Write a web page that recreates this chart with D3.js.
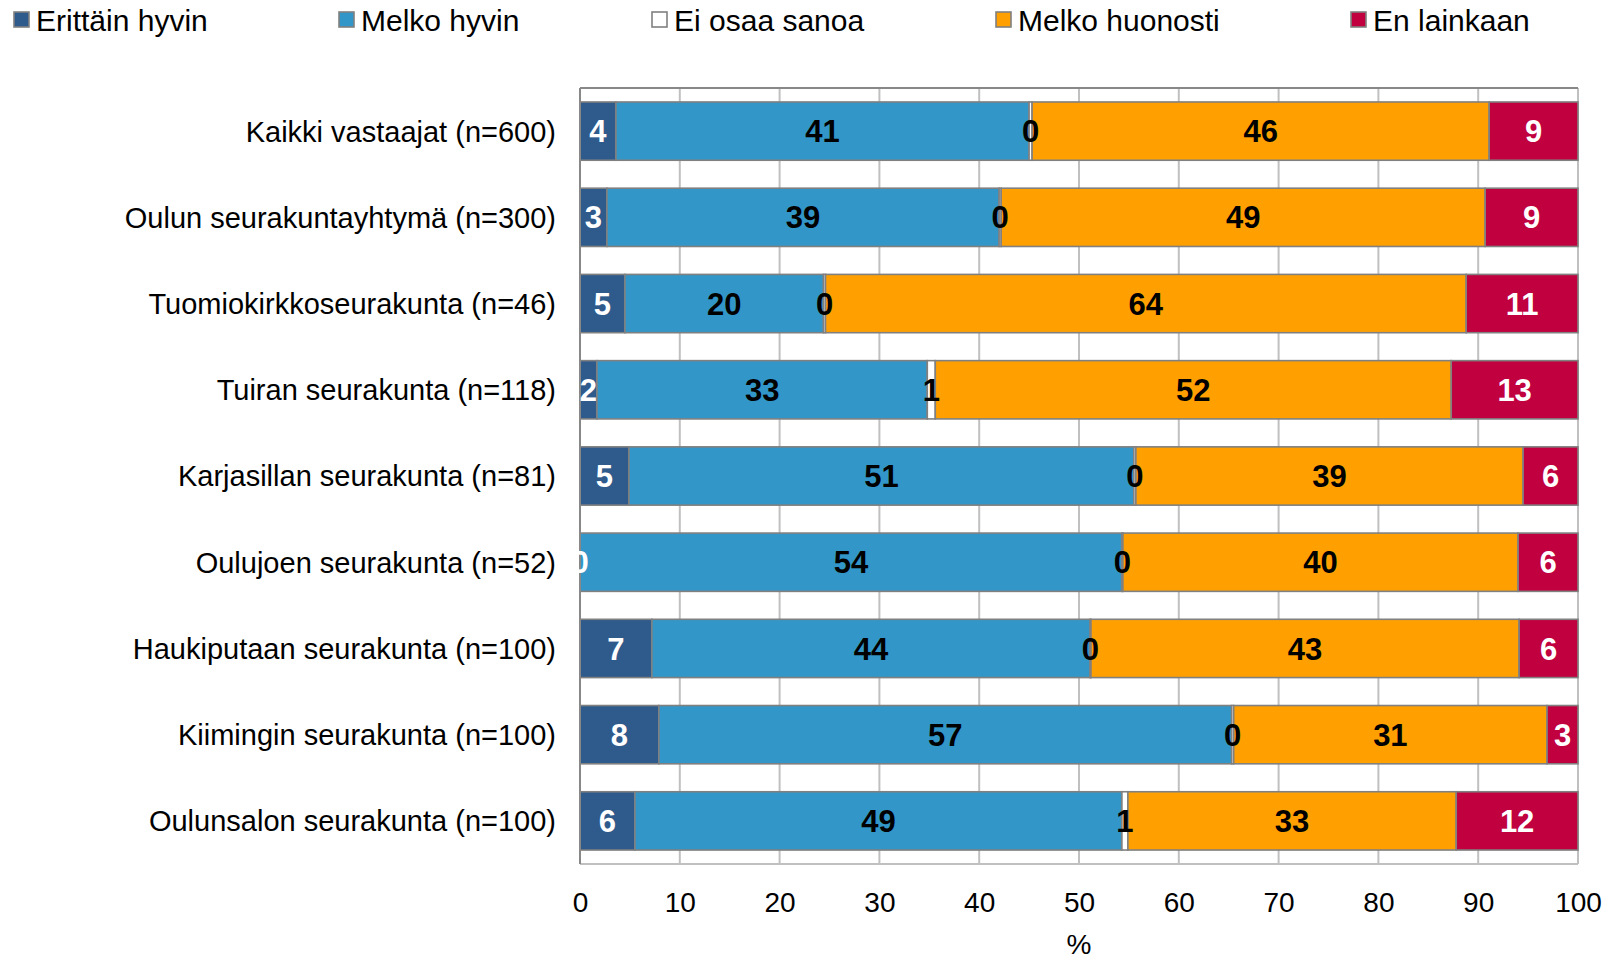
<!DOCTYPE html>
<html>
<head>
<meta charset="utf-8">
<script src="https://cdn.jsdelivr.net/npm/d3@7"></script>
<style>
  body { margin: 0; background: #fff; }
  text { font-family: "Liberation Sans", Arial, sans-serif; }
</style>
</head>
<body>
<div id="chart"></div>
<script>
"use strict"

const categories = [
  "Kaikki vastaajat (n=600)",
  "Oulun seurakuntayhtymä (n=300)",
  "Tuomiokirkkoseurakunta (n=46)",
  "Tuiran seurakunta (n=118)",
  "Karjasillan seurakunta (n=81)",
  "Oulujoen seurakunta (n=52)",
  "Haukiputaan seurakunta (n=100)",
  "Kiimingin seurakunta (n=100)",
  "Oulunsalon seurakunta (n=100)"
];
const seriesNames = ["Erittäin hyvin", "Melko hyvin", "Ei osaa sanoa", "Melko huonosti", "En lainkaan"];
const erittain      = [3.6, 2.7, 4.5, 1.7, 4.9, 0.0, 7.2, 7.9, 5.5];
const melkoHyvin    = [41.4, 39.3, 19.9, 33.1, 50.6, 54.3, 43.9, 57.4, 48.8];
const eiOsaa        = [0.3, 0.2, 0.2, 0.8, 0.2, 0.1, 0.1, 0.2, 0.6];
const melkoHuonosti = [45.8, 48.5, 64.2, 51.7, 38.8, 39.6, 42.9, 31.4, 32.9];
const enLainkaan    = [8.9, 9.3, 11.2, 12.7, 5.5, 6.0, 5.9, 3.1, 12.2];
const xTicks = [0, 10, 20, 30, 40, 50, 60, 70, 80, 90, 100];

const colors = ["#2f5a8c", "#3296c8", "#ffffff", "#ffa000", "#c0003f"];
const labelColors = ["#fff", "#000", "#000", "#000", "#fff"];
const legendX = [13, 338, 651, 995, 1350];

const width = 1608, height = 960;
const margin = {left: 580, right: 30, top: 88, bottom: 96};

const rows = categories.map((c, i) => ({
  name: c,
  values: [erittain[i], melkoHyvin[i], eiOsaa[i], melkoHuonosti[i], enLainkaan[i]]
}));

// stacked segments
const segments = [];
rows.forEach((r) => {
  let acc = 0;
  r.values.forEach((v, k) => {
    segments.push({row: r.name, k: k, x0: acc, x1: acc + v, v: v});
    acc += v;
  });
});

const svg = d3.select("#chart").append("svg")
  .attr("width", width)
  .attr("height", height);

const x = d3.scaleLinear().domain([0, 100]).range([margin.left, width - margin.right]);
const y = d3.scaleBand().domain(categories)
  .range([margin.top, height - margin.bottom])
  .paddingInner(0.324)
  .paddingOuter(0.162);

// gridlines
svg.append("g")
  .selectAll("line")
  .data(xTicks.slice(1))
  .join("line")
    .attr("x1", (d) => x(d))
    .attr("x2", (d) => x(d))
    .attr("y1", margin.top)
    .attr("y2", height - margin.bottom)
    .attr("stroke", "#c0c0c0")
    .attr("stroke-width", 2);

// plot frame
svg.append("line")
  .attr("x1", x(0)).attr("x2", x(100))
  .attr("y1", height - margin.bottom).attr("y2", height - margin.bottom)
  .attr("stroke", "#c0c0c0").attr("stroke-width", 2);
svg.append("line")
  .attr("x1", x(0)).attr("x2", x(100))
  .attr("y1", margin.top).attr("y2", margin.top)
  .attr("stroke", "#888").attr("stroke-width", 2);

// bars
svg.append("g")
  .selectAll("rect")
  .data(segments)
  .join("rect")
    .attr("x", (d) => x(d.x0))
    .attr("y", (d) => y(d.row))
    .attr("width", (d) => x(d.x1) - x(d.x0))
    .attr("height", y.bandwidth())
    .attr("fill", (d) => colors[d.k])
    .attr("stroke", "#808080")
    .attr("stroke-width", 1.6);

// left axis line
svg.append("line")
  .attr("x1", x(0)).attr("x2", x(0))
  .attr("y1", margin.top).attr("y2", height - margin.bottom)
  .attr("stroke", "#888").attr("stroke-width", 2);

// data labels
svg.append("g")
  .selectAll("text")
  .data(segments)
  .join("text")
    .attr("x", (d) => x((d.x0 + d.x1) / 2))
    .attr("y", (d) => y(d.row) + y.bandwidth() / 2)
    .attr("dy", "0.36em")
    .attr("text-anchor", "middle")
    .attr("fill", (d) => labelColors[d.k])
    .style("font-family", "'Liberation Sans Narrow', 'Liberation Sans', Arial, sans-serif")
    .style("font-weight", "bold")
    .style("font-size", "31px")
    .text((d) => Math.round(d.v));

// category labels
svg.append("g")
  .selectAll("text")
  .data(categories)
  .join("text")
    .attr("x", x(0) - 24)
    .attr("y", (d) => y(d) + y.bandwidth() / 2)
    .attr("dy", "0.36em")
    .attr("text-anchor", "end")
    .style("font-size", "29px")
    .text((d) => d);

// x axis
const xAxis = svg.append("g")
  .attr("transform", `translate(0,${height - margin.bottom})`)
  .call(d3.axisBottom(x).tickValues(xTicks).tickSize(0).tickPadding(28));
xAxis.select(".domain").remove();
xAxis.selectAll("text")
  .style("font-family", "'Liberation Sans', Arial, sans-serif")
  .style("font-size", "28px")
  .attr("fill", "#000");

svg.append("text")
  .attr("x", (x(0) + x(100)) / 2)
  .attr("y", 944)
  .attr("dy", "0.36em")
  .attr("text-anchor", "middle")
  .style("font-size", "28px")
  .text("%");

// legend
const legend = svg.append("g")
  .selectAll("g")
  .data(seriesNames)
  .join("g")
    .attr("transform", (d, i) => `translate(${legendX[i]},20)`);
legend.append("rect")
  .attr("x", 1).attr("y", -8)
  .attr("width", 15).attr("height", 15)
  .attr("fill", (d, i) => colors[i])
  .attr("stroke", "#808080")
  .attr("stroke-width", 1.6);
legend.append("text")
  .attr("x", 23)
  .attr("y", 0)
  .attr("dy", "0.36em")
  .style("font-size", "30px")
  .text((d) => d);
</script>
</body>
</html>
